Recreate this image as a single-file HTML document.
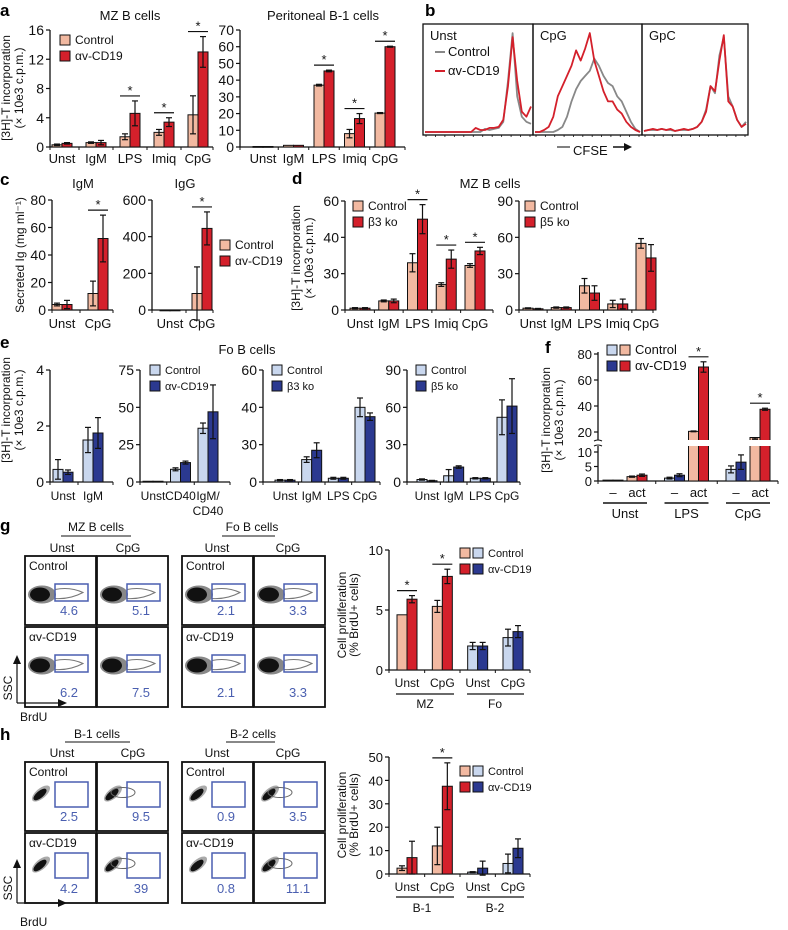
<!DOCTYPE html>
<html><head><meta charset="utf-8"><style>
html,body{margin:0;padding:0;background:#fff;}
svg{display:block;font-family:"Liberation Sans",sans-serif;}
</style></head><body>
<svg id="fig" width="788" height="930" viewBox="0 0 788 930" xmlns="http://www.w3.org/2000/svg"></svg>
<script>
// ---------- DATA ----------
const aMzCats=["Unst","IgM","LPS","Imiq","CpG"];
const aMzCtrl=[0.3,0.6,1.4,2.0,4.4];
const aMzCtrlErr=[0.1,0.1,0.4,0.4,2.6];
const aMzCd19=[0.5,0.6,4.6,3.4,13.0];
const aMzCd19Err=[0.1,0.3,1.7,0.6,2.1];
const aMzTicks=[0,4,8,12,16];
const aPeCtrl=[0.3,1,37,8,20.3];
const aPeCtrlErr=[0,0,0.5,2.5,0.3];
const aPeCd19=[0.3,1,45.5,17,60];
const aPeCd19Err=[0,0,0.5,3,0.3];
const aPeTicks=[0,10,20,30,40,50,60,70];
const cCats=["Unst","CpG"];
const cIgmCtrl=[4,12], cIgmCtrlErr=[1,9], cIgmCd19=[4,52], cIgmCd19Err=[3,17];
const cIgmTicks=[0,20,40,60,80];
const cIggCtrl=[0,90], cIggCtrlErr=[0,145], cIggCd19=[0,445], cIggCd19Err=[0,90];
const cIggTicks=[0,200,400,600];
const dCats=["Unst","IgM","LPS","Imiq","CpG"];
const d3Ctrl=[1,5,26,14,24.5], d3CtrlErr=[0.3,0.5,5,1,1];
const d3Ko=[1,5,50,28,32.5], d3KoErr=[0.3,1,8,5,2];
const d3TickVals=[0,20,40,60], d3TickLabels=["0","30","40","60"];
const d5Ctrl=[1.5,2,20,5,55], d5CtrlErr=[0.3,0.5,6,3,4];
const d5Ko=[1,2,14,5,43], d5KoErr=[0.3,0.5,6,4,11];
const d5Ticks=[0,30,60,90];
const e1Cats=["Unst","IgM"], e1Ctrl=[0.45,1.5], e1CtrlErr=[0.35,0.45], e1Cd19=[0.35,1.75], e1Cd19Err=[0.08,0.55];
const e1Ticks=[0,2,4];
const e2Cats=["Unst","CD40","IgM/\nCD40"], e2Ctrl=[0.5,8.5,36], e2CtrlErr=[0,1,3.5], e2Cd19=[0.5,13,47], e2Cd19Err=[0,1,18];
const e2Ticks=[0,25,50,75];
const e3Cats=["Unst","IgM","LPS","CpG"], e3Ctrl=[1,12,2,40], e3CtrlErr=[0.3,1.5,0.5,5], e3Ko=[1,17,2,35], e3KoErr=[0.3,4,0.5,2];
const e3TickVals=[0,20,40,60], e3TickLabels=["0","30","40","60"];
const e4Ctrl=[2,5,3,52], e4CtrlErr=[0.5,5,0.5,14], e4Ko=[1,12,3,61], e4KoErr=[0.3,1,0.5,22];
const e4Ticks=[0,30,60,90];
const fCats=["Unst","LPS","CpG"];
const fCtrlNo=[0.3,1,4], fCtrlNoErr=[0,0.3,1.2];
const fCd19No=[0.3,2,6.5], fCd19NoErr=[0,0.5,2.5];
const fCtrlAct=[1.5,20.5,15], fCtrlActErr=[0.2,0.3,0.6];
const fCd19Act=[2,70,37.5], fCd19ActErr=[0.4,4,0.8];
const fTicks=[0,5,10,20,40,60,80];
const gCats=["Unst","CpG","Unst","CpG"];
const gCtrl=[4.6,5.3,2.0,2.7], gCtrlErr=[0,0.5,0.3,0.7];
const gCd19=[5.9,7.8,2.0,3.2], gCd19Err=[0.3,0.6,0.3,0.5];
const gTicks=[0,5,10];
const hCtrl=[2.5,12,0.8,4.5], hCtrlErr=[1,8,0.2,4];
const hCd19=[7,37.5,2.5,11], hCd19Err=[7,10,3,4];
const hTicks=[0,10,20,30,40,50];
const gFacsNums=[["4.6","5.1","2.1","3.3"],["6.2","7.5","2.1","3.3"]];
const hFacsNums=[["2.5","9.5","0.9","3.5"],["4.2","39","0.8","11.1"]];
const bUnstCtrl=[0,0,0,0,0,0,0,0,0,0,0,0,0,0.03,0.02,0.03,0.04,0.1,0.5,0.97,0.35,0.15,0.1,0.08];
const bUnstCd19=[0,0,0,0,0,0,0,0,0,0,0,0.04,0.02,0.02,0.04,0.04,0.05,0.12,0.45,0.93,0.5,0.2,0.15,0.25];
const bCpgCtrl=[0,0,0,0,0,0.02,0.05,0.15,0.3,0.42,0.5,0.55,0.6,0.72,0.65,0.55,0.48,0.45,0.35,0.3,0.2,0.1,0.03,0];
const bCpgCd19=[0,0,0.02,0.05,0.15,0.35,0.45,0.55,0.65,0.8,0.7,0.82,0.97,0.7,0.55,0.4,0.3,0.3,0.22,0.18,0.1,0.05,0.02,0];
const bGpcCtrl=[0.01,0.02,0.02,0.02,0.03,0.02,0.02,0.01,0.02,0.02,0.02,0.03,0.05,0.1,0.22,0.45,0.38,0.75,0.93,0.35,0.25,0.12,0.05,0.1];
const bGpcCd19=[0.01,0.02,0.03,0.02,0.03,0.02,0.03,0.01,0.02,0.03,0.02,0.03,0.05,0.1,0.2,0.45,0.4,0.7,0.95,0.3,0.25,0.12,0.05,0.08];

// ---------- HELPERS ----------
const NS="http://www.w3.org/2000/svg";
const svg=document.getElementById('fig');
const SAL="#f2b9a1", RED="#d4202b", LB="#c9d7ee", DB="#2b3990", BLUE="#4a5fb0";
function mk(tag,attrs,name,parent){
  const el=document.createElementNS(NS,tag);
  for(const k in attrs) el.setAttribute(k,attrs[k]);
  
  
  (parent||svg).appendChild(el);
  return el;
}
function txt(x,y,s,name,size,anchor,fill,extra){
  const a={x:x,y:y,'font-size':size||13,'text-anchor':anchor||'start',fill:fill||'#111'};
  if(extra) for(const k in extra) a[k]=extra[k];
  const t=mk('text',a,name);
  t.textContent=s;
  return t;
}
function rot(x,y,s,name,size){
  return txt(x,y,s,name,size||12,'middle','#111',{transform:'rotate(-90 '+x+' '+y+')'});
}
function chart(c){
  const g=mk('g',{},c.name);
  const sy=c.scale||(v=>c.y0-v/c.vMax*(c.y0-c.yTop));
  const n=c.cats.length;
  const cx=i=> n===1?c.c0:c.c0+i*(c.c1-c.c0)/(n-1);
  mk('line',{x1:c.x0,y1:c.y0,x2:c.x0,y2:c.yTop,stroke:'#111','stroke-width':1.3},'y-axis',g);
  mk('line',{x1:c.x0,y1:c.y0,x2:c.x1,y2:c.y0,stroke:'#111','stroke-width':1.3},'x-axis',g);
  c.tickVals.forEach((v,i)=>{
    const y=sy(v);
    mk('line',{x1:c.x0-4,y1:y,x2:c.x0,y2:y,stroke:'#111','stroke-width':1.2},'y-tick',g);
    const t=txt(c.x0-6,y+5,c.tickLabels?c.tickLabels[i]:String(v),'y-tick-label',c.fs||14,'end');
    g.appendChild(t);
  });
  for(let i=0;i<=n;i++){
    const x= i===0? c.x0 : (i===n? c.x1 : (cx(i-1)+cx(i))/2);
    mk('line',{x1:x,y1:c.y0,x2:x,y2:c.y0+3,stroke:'#111','stroke-width':1},'x-tick',g);
  }
  const bw=c.bw||10, ns=c.series.length;
  c.series.forEach((s,k)=>{
    s.vals.forEach((v,i)=>{
      const left= c.barX? cx(i)+c.barX[k] : cx(i)+(k-ns/2)*bw;
      const fill=Array.isArray(s.fill)?s.fill[i]:s.fill;
      const top=sy(v);
      mk('rect',{x:left,y:top,width:bw,height:Math.max(0.8,c.y0-top),fill:fill,stroke:'#111','stroke-width':1},'bar-'+s.key+'-'+c.cats[i].replace(/\W/g,'').toLowerCase(),g);
      const e=s.errs[i];
      if(e>0){
        const xm=left+bw/2;
        mk('line',{x1:xm,y1:sy(v-e),x2:xm,y2:sy(v+e),stroke:'#111','stroke-width':1.2},'error-bar',g);
        mk('line',{x1:xm-3,y1:sy(v+e),x2:xm+3,y2:sy(v+e),stroke:'#111','stroke-width':1.2},'error-cap',g);
        mk('line',{x1:xm-3,y1:sy(v-e),x2:xm+3,y2:sy(v-e),stroke:'#111','stroke-width':1.2},'error-cap',g);
      }
    });
  });
  (c.stars||[]).forEach(i=>{
    let top=1e9;
    c.series.forEach(s=>{ if(!c.starSeries||c.starSeries.includes(s.key)) top=Math.min(top,sy(s.vals[i]+s.errs[i])); });
    const y=top-5;
    const xm=c.barX? cx(i)+c.starX : cx(i);
    mk('line',{x1:xm-bw,y1:y,x2:xm+bw,y2:y,stroke:'#111','stroke-width':1.2},'significance-line',g);
    txt(xm,y-1,'*','significance-star',13,'middle');
  });
  if(!c.noCatLabels) c.cats.forEach((s,i)=>{
    s.split('\n').forEach((ln,j)=>txt(cx(i),c.labY+j*15,ln,'x-tick-label',c.lfs||13,'middle'));
  });
  return g;
}
function legend(x,y,items,fs){
  items.forEach((it,i)=>{
    it.colors.forEach((col,j)=>mk('rect',{x:x+j*13,y:y+i*16-9,width:10,height:10,fill:col,stroke:'#111','stroke-width':1},'legend-swatch'));
    txt(x+it.colors.length*13+2,y+i*16,it.label,'legend-entry',fs||12);
  });
}

// ---------- PANEL A ----------
txt(0,16,'a','panel-label-a',17,'start','#000',{'font-weight':'bold'});
txt(130,20,'MZ B cells','title-mz-b-cells',13,'middle');
txt(323,20,'Peritoneal B-1 cells','title-peritoneal-b1',13,'middle');
rot(10,88,'[3H]-T incorporation','y-axis-title-a',12);
rot(23,88,'(\u00d7 10e3 c.p.m.)','y-axis-title-a-unit',12);
chart({name:'chart-a-mz',x0:50,x1:213,y0:147,yTop:30,vMax:16,tickVals:aMzTicks,cats:aMzCats,c0:62,c1:198,labY:163,
  series:[{key:'control',vals:aMzCtrl,errs:aMzCtrlErr,fill:SAL},{key:'cd19',vals:aMzCd19,errs:aMzCd19Err,fill:RED}],stars:[2,3,4]});
legend(60,44,[{colors:[SAL],label:'Control'},{colors:[RED],label:'\u03b1v-CD19'}]);
chart({name:'chart-a-peritoneal',x0:240,x1:405,y0:147,yTop:30,vMax:70,tickVals:aPeTicks,cats:aMzCats,c0:263,c1:385,labY:163,
  series:[{key:'control',vals:aPeCtrl,errs:aPeCtrlErr,fill:SAL},{key:'cd19',vals:aPeCd19,errs:aPeCd19Err,fill:RED}],stars:[2,3,4]});

// ---------- PANEL B ----------
txt(425,16,'b','panel-label-b',17,'start','#000',{'font-weight':'bold'});
const boxes=[[423,533,'Unst',bUnstCtrl,bUnstCd19],[533,642,'CpG',bCpgCtrl,bCpgCd19],[642,748,'GpC',bGpcCtrl,bGpcCd19]];
boxes.forEach((b,bi)=>{
  const L=b[0],R=b[1],T=24,B=135;
  mk('rect',{x:L,y:T,width:R-L,height:B-T,fill:'none',stroke:'#111','stroke-width':1.3},'histogram-box-'+b[2].toLowerCase());
  for(let k=0;k<12;k++){const x=L+3+k*(R-L-6)/11;mk('line',{x1:x,y1:B,x2:x,y2:B+2,stroke:'#111','stroke-width':0.8},'x-tick');}
  [[b[3],'#888','control'],[b[4],RED,'cd19']].forEach(s=>{
    const arr=s[0];
    const pts=arr.map((v,i)=>(L+2+i*(R-L-4)/(arr.length-1)).toFixed(1)+','+(B-3-v*102).toFixed(1)).join(' ');
    mk('polyline',{points:pts,fill:'none',stroke:s[1],'stroke-width':1.8,'stroke-linejoin':'round'},'histogram-'+s[2]+'-'+b[2].toLowerCase());
  });
  txt(L+7,40,b[2],'histogram-label-'+b[2].toLowerCase(),13);
});
mk('line',{x1:435,y1:52,x2:445,y2:52,stroke:'#888','stroke-width':2},'legend-line-control');
txt(448,56,'Control','legend-entry',13);
mk('line',{x1:435,y1:71,x2:445,y2:71,stroke:RED,'stroke-width':2},'legend-line-cd19');
txt(448,75,'\u03b1v-CD19','legend-entry',13);
mk('line',{x1:557,y1:147,x2:570,y2:147,stroke:'#555','stroke-width':1.5},'cfse-line');
txt(573,155,'CFSE','x-axis-title-cfse',13);
mk('line',{x1:613,y1:147,x2:625,y2:147,stroke:'#111','stroke-width':1.5},'cfse-arrow');
mk('polygon',{points:'624,143 632,147 624,151',fill:'#111'},'cfse-arrowhead');

// ---------- PANEL C ----------
txt(0,185,'c','panel-label-c',17,'start','#000',{'font-weight':'bold'});
txt(83,188,'IgM','title-igm',13,'middle');
txt(185,188,'IgG','title-igg',13,'middle');
rot(24,255,'Secreted Ig (mg ml\u207b\u00b9)','y-axis-title-c',12);
chart({name:'chart-c-igm',x0:52,x1:113,y0:310,yTop:200,vMax:80,tickVals:cIgmTicks,cats:cCats,c0:62,c1:98,labY:328,
  series:[{key:'control',vals:cIgmCtrl,errs:cIgmCtrlErr,fill:SAL},{key:'cd19',vals:cIgmCd19,errs:cIgmCd19Err,fill:RED}],stars:[1]});
chart({name:'chart-c-igg',x0:152,x1:213,y0:310,yTop:200,vMax:600,tickVals:cIggTicks,cats:cCats,c0:170,c1:202,labY:328,
  series:[{key:'control',vals:cIggCtrl,errs:cIggCtrlErr,fill:SAL},{key:'cd19',vals:cIggCd19,errs:cIggCd19Err,fill:RED}],stars:[1]});
legend(220,249,[{colors:[SAL],label:'Control'},{colors:[RED],label:'\u03b1v-CD19'}],12);

// ---------- PANEL D ----------
txt(292,184,'d','panel-label-d',17,'start','#000',{'font-weight':'bold'});
txt(490,188,'MZ B cells','title-d-mz-b-cells',13,'middle');
rot(300,258,'[3H]-T incorporation','y-axis-title-d',12);
rot(313,258,'(\u00d7 10e3 c.p.m.)','y-axis-title-d-unit',12);
chart({name:'chart-d-b3',x0:345,x1:493,y0:310,yTop:201,vMax:60,tickVals:d3TickVals,tickLabels:d3TickLabels,cats:dCats,c0:360,c1:475,labY:328,
  series:[{key:'control',vals:d3Ctrl,errs:d3CtrlErr,fill:SAL},{key:'b3ko',vals:d3Ko,errs:d3KoErr,fill:RED}],stars:[2,3,4]});
legend(353,210,[{colors:[SAL],label:'Control'},{colors:[RED],label:'\u03b23 ko'}]);
chart({name:'chart-d-b5',x0:519,x1:653,y0:310,yTop:201,vMax:90,tickVals:d5Ticks,cats:dCats,c0:533,c1:646,labY:328,
  series:[{key:'control',vals:d5Ctrl,errs:d5CtrlErr,fill:SAL},{key:'b5ko',vals:d5Ko,errs:d5KoErr,fill:RED}]});
legend(525,210,[{colors:[SAL],label:'Control'},{colors:[RED],label:'\u03b25 ko'}]);

// ---------- PANEL E ----------
txt(0,348,'e','panel-label-e',17,'start','#000',{'font-weight':'bold'});
txt(247,354,'Fo B cells','title-fo-b-cells',13,'middle');
rot(10,410,'[3H]-T incorporation','y-axis-title-e',12);
rot(23,410,'(\u00d7 10e3 c.p.m.)','y-axis-title-e-unit',12);
chart({name:'chart-e-igm',x0:50,x1:113,y0:482,yTop:370,vMax:4,tickVals:e1Ticks,cats:e1Cats,c0:63,c1:93,labY:500,lfs:12,
  series:[{key:'control',vals:e1Ctrl,errs:e1CtrlErr,fill:LB},{key:'cd19',vals:e1Cd19,errs:e1Cd19Err,fill:DB}]});
chart({name:'chart-e-cd40',x0:140,x1:230,y0:482,yTop:370,vMax:75,tickVals:e2Ticks,cats:e2Cats,c0:153,c1:208,labY:500,lfs:12,
  series:[{key:'control',vals:e2Ctrl,errs:e2CtrlErr,fill:LB},{key:'cd19',vals:e2Cd19,errs:e2Cd19Err,fill:DB}]});
legend(150,374,[{colors:[LB],label:'Control'},{colors:[DB],label:'\u03b1v-CD19'}],11);
chart({name:'chart-e-b3',x0:263,x1:380,y0:482,yTop:370,vMax:60,tickVals:e3TickVals,tickLabels:e3TickLabels,cats:e3Cats,c0:285,c1:365,labY:500,lfs:12,
  series:[{key:'control',vals:e3Ctrl,errs:e3CtrlErr,fill:LB},{key:'b3ko',vals:e3Ko,errs:e3KoErr,fill:DB}]});
legend(272,374,[{colors:[LB],label:'Control'},{colors:[DB],label:'\u03b23 ko'}],11);
chart({name:'chart-e-b5',x0:407,x1:520,y0:482,yTop:370,vMax:90,tickVals:e4Ticks,cats:e3Cats,c0:427,c1:507,labY:500,lfs:12,
  series:[{key:'control',vals:e4Ctrl,errs:e4CtrlErr,fill:LB},{key:'b5ko',vals:e4Ko,errs:e4KoErr,fill:DB}]});
legend(416,374,[{colors:[LB],label:'Control'},{colors:[DB],label:'\u03b25 ko'}],11);

// ---------- PANEL F ----------
txt(545,353,'f','panel-label-f',17,'start','#000',{'font-weight':'bold'});
rot(550,420,'[3H]-T incorporation','y-axis-title-f',12);
rot(563,420,'(\u00d7 10e3 c.p.m.)','y-axis-title-f-unit',12);
const fScale=v=> v<=15 ? 481-v*2.9 : 432-(v-20)*1.3;
chart({name:'chart-f',x0:598,x1:778,y0:481,yTop:352,scale:fScale,tickVals:fTicks,cats:fCats,c0:625,c1:748,noCatLabels:true,fs:13,
  barX:[-22,-12,2,12],starX:12,starSeries:['ctrlact','cd19act'],
  series:[{key:'ctrlno',vals:fCtrlNo,errs:fCtrlNoErr,fill:LB},{key:'cd19no',vals:fCd19No,errs:fCd19NoErr,fill:DB},
          {key:'ctrlact',vals:fCtrlAct,errs:fCtrlActErr,fill:SAL},{key:'cd19act',vals:fCd19Act,errs:fCd19ActErr,fill:RED}],stars:[1,2]});
mk('rect',{x:592,y:440,width:190,height:6,fill:'#fff'},'axis-break');
mk('path',{d:'M594,441 Q598,439 602,441 M594,446 Q598,444 602,446',fill:'none',stroke:'#111','stroke-width':1},'axis-break-mark');
fCats.forEach((s,i)=>{
  const c=625+i*61.5;
  txt(c-12,497,'\u2013','x-tick-label-minus',13,'middle');
  txt(c+12,497,'act','x-tick-label-act',13,'middle');
  mk('line',{x1:c-22,y1:503,x2:c+22,y2:503,stroke:'#111','stroke-width':1.5},'group-line');
  txt(c,518,s,'group-label-'+s.toLowerCase(),13,'middle');
});
legend(607,354,[{colors:[LB,SAL],label:'Control'},{colors:[DB,RED],label:'\u03b1v-CD19'}],13);

// ---------- FACS grids (g, h) ----------
function facs(rows,cols,nums,gateTop,gateH,nameP,tight){
  rows.forEach((rt,ri)=>{
    cols.forEach((cl,ci)=>{
      const L=cl,T=rt[0],W=71,H=rt[1]-rt[0];
      mk('rect',{x:L,y:T,width:W,height:H,fill:'#fff',stroke:'#111','stroke-width':1.8},nameP+'-facs-plot');
      const by=T+gateTop+gateH/2+2;
      if(tight){
        const bx=L+14;
        mk('ellipse',{cx:bx+2,cy:by-3,rx:11,ry:5,transform:'rotate(-40 '+(bx+2)+' '+(by-3)+')',fill:'#aaa'},'facs-contour');
        mk('ellipse',{cx:bx+1,cy:by-2,rx:8,ry:3.5,transform:'rotate(-40 '+(bx+1)+' '+(by-2)+')',fill:'#111'},'facs-blob');
        if(ci%2===1) mk('ellipse',{cx:bx+12,cy:by-4,rx:12,ry:5,fill:'none',stroke:'#666','stroke-width':1},'facs-contour');
      }else{
        const bx=L+15;
        mk('ellipse',{cx:bx+2,cy:by,rx:14,ry:9,fill:'#888'},'facs-halo');
        mk('ellipse',{cx:bx,cy:by,rx:10,ry:7,fill:'#111'},'facs-blob');
        mk('path',{d:'M'+(L+30)+','+(by-5)+' Q'+(L+45)+','+(by-8)+' '+(L+58)+','+(by-2)+' Q'+(L+45)+','+(by+5)+' '+(L+30)+','+(by+4),fill:'none',stroke:'#777','stroke-width':1},'facs-contour');
      }
      mk('rect',{x:L+30,y:T+gateTop,width:33,height:gateH,fill:'none',stroke:BLUE,'stroke-width':1.5},'facs-gate');
      txt(L+44,T+H-10,nums[ri][ci],'facs-gate-value',13,'middle',BLUE);
      if(ci%2===0) txt(L+4,T+14,ri===0?'Control':'\u03b1v-CD19','facs-row-label',12);
    });
  });
}
// g
txt(0,531,'g','panel-label-g',17,'start','#000',{'font-weight':'bold'});
txt(96,531,'MZ B cells','title-g-mz',12,'middle');
mk('line',{x1:61,y1:536,x2:131,y2:536,stroke:'#111','stroke-width':1},'title-line');
txt(62,552,'Unst','col-label',12,'middle');txt(128,552,'CpG','col-label',12,'middle');
txt(252,531,'Fo B cells','title-g-fo',12,'middle');
mk('line',{x1:222,y1:536,x2:275,y2:536,stroke:'#111','stroke-width':1},'title-line');
txt(217,552,'Unst','col-label',12,'middle');txt(288,552,'CpG','col-label',12,'middle');
facs([[556,625],[627,707]],[25,97,182,254],gFacsNums,28,17,'g',false);
mk('line',{x1:17,y1:703,x2:17,y2:662,stroke:'#111','stroke-width':1.2},'ssc-arrow');
mk('polygon',{points:'13,664 17,655 21,664',fill:'#111'},'ssc-arrowhead');
mk('line',{x1:17,y1:703,x2:60,y2:703,stroke:'#111','stroke-width':1.2},'brdu-arrow');
mk('polygon',{points:'58,699 67,703 58,707',fill:'#111'},'brdu-arrowhead');
rot(12,688,'SSC','y-axis-title-ssc',12);
txt(20,721,'BrdU','x-axis-title-brdu',12);
rot(346,615,'Cell proliferation','y-axis-title-g',12);
rot(358,615,'(% BrdU+ cells)','y-axis-title-g-unit',12);
chart({name:'chart-g',x0:389,x1:530,y0:670,yTop:550,vMax:10,tickVals:gTicks,cats:gCats,c0:407,c1:513,labY:687,lfs:12,fs:13,
  series:[{key:'control',vals:gCtrl,errs:gCtrlErr,fill:[SAL,SAL,LB,LB]},{key:'cd19',vals:gCd19,errs:gCd19Err,fill:[RED,RED,DB,DB]}],stars:[0,1]});
mk('line',{x1:396,y1:694,x2:454,y2:694,stroke:'#111','stroke-width':1.2},'group-line');
mk('line',{x1:467,y1:694,x2:524,y2:694,stroke:'#111','stroke-width':1.2},'group-line');
txt(425,708,'MZ','group-label-mz',12,'middle');txt(495,708,'Fo','group-label-fo',12,'middle');
legend(460,557,[{colors:[SAL,LB],label:'Control'},{colors:[RED,DB],label:'\u03b1v-CD19'}],11);
// h
txt(0,740,'h','panel-label-h',17,'start','#000',{'font-weight':'bold'});
txt(97,738,'B-1 cells','title-h-b1',12,'middle');
mk('line',{x1:65,y1:742,x2:130,y2:742,stroke:'#111','stroke-width':1},'title-line');
txt(62,757,'Unst','col-label',12,'middle');txt(133,757,'CpG','col-label',12,'middle');
txt(253,738,'B-2 cells','title-h-b2',12,'middle');
mk('line',{x1:226,y1:742,x2:275,y2:742,stroke:'#111','stroke-width':1},'title-line');
txt(217,757,'Unst','col-label',12,'middle');txt(288,757,'CpG','col-label',12,'middle');
facs([[762,831],[833,903]],[25,97,182,254],hFacsNums,20,25,'h',true);
mk('line',{x1:17,y1:903,x2:17,y2:866,stroke:'#111','stroke-width':1.2},'ssc-arrow');
mk('polygon',{points:'13,868 17,859 21,868',fill:'#111'},'ssc-arrowhead');
mk('line',{x1:17,y1:903,x2:60,y2:903,stroke:'#111','stroke-width':1.2},'brdu-arrow');
mk('polygon',{points:'58,899 67,903 58,907',fill:'#111'},'brdu-arrowhead');
rot(12,888,'SSC','y-axis-title-ssc-h',12);
txt(20,926,'BrdU','x-axis-title-brdu-h',12);
rot(346,815,'Cell proliferation','y-axis-title-h',12);
rot(358,815,'(% BrdU+ cells)','y-axis-title-h-unit',12);
chart({name:'chart-h',x0:389,x1:530,y0:874,yTop:757,vMax:50,tickVals:hTicks,cats:gCats,c0:407,c1:513,labY:891,lfs:12,fs:13,
  series:[{key:'control',vals:hCtrl,errs:hCtrlErr,fill:[SAL,SAL,LB,LB]},{key:'cd19',vals:hCd19,errs:hCd19Err,fill:[RED,RED,DB,DB]}],stars:[1]});
mk('line',{x1:396,y1:897,x2:454,y2:897,stroke:'#111','stroke-width':1.2},'group-line');
mk('line',{x1:467,y1:897,x2:524,y2:897,stroke:'#111','stroke-width':1.2},'group-line');
txt(422,912,'B-1','group-label-b1',12,'middle');txt(495,912,'B-2','group-label-b2',12,'middle');
legend(460,775,[{colors:[SAL,LB],label:'Control'},{colors:[RED,DB],label:'\u03b1v-CD19'}],11);
</script>
</body></html>
